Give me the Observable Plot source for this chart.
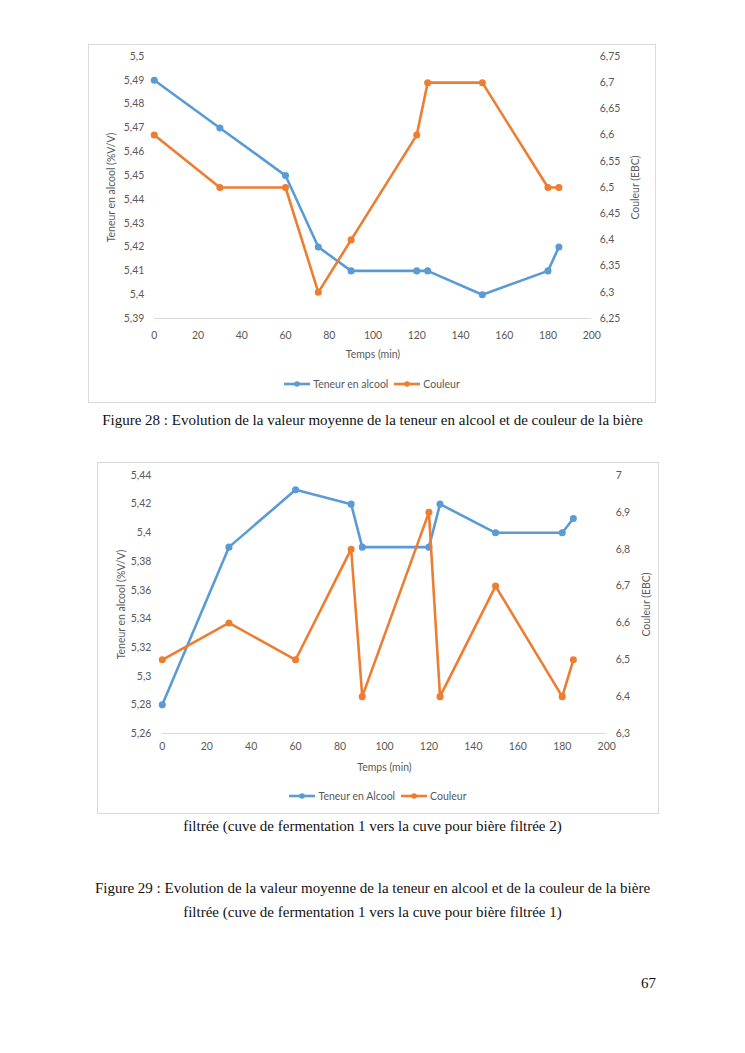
<!DOCTYPE html>
<html>
<head>
<meta charset="utf-8">
<script src="https://cdn.jsdelivr.net/npm/d3@7"></script>
<script src="https://cdn.jsdelivr.net/npm/@observablehq/plot@0.6"></script>
<style>
  html, body { margin: 0; padding: 0; background: #fff; }
  body { position: relative; width: 745px; height: 1053px; overflow: hidden; }
  .frame { position: absolute; border: 1px solid #d9d9d9; box-sizing: border-box; background: #fff; }
  .frame svg { position: absolute; left: 0; top: 0; }
  .legend { position: absolute; left: 0; width: 100%; display: flex; justify-content: center; align-items: center;
            font-family: Lato, sans-serif; font-size: 10.5px; color: #595959; gap: 0; }
  .legend span.item { display: inline-flex; align-items: center; margin: 0 3px; }
  .legend svg { position: static; margin-right: 3px; }
  .cap { position: absolute; left: 0; width: 745px; text-align: center; font-family: "Liberation Serif", "Times New Roman", serif;
         font-size: 15px; color: #111; line-height: 16px; white-space: nowrap; }
</style>
</head>
<body>
<div id="f1" class="frame" style="left:88px; top:44px; width:568px; height:359px;"></div>
<div class="cap" style="top:412px;">Figure 28 : Evolution de la valeur moyenne de la teneur en alcool et de couleur de la bière</div>
<div id="f2" class="frame" style="left:97px; top:462px; width:562px; height:352px;"></div>
<div class="cap" style="top:818px;">filtrée (cuve de fermentation 1 vers la cuve pour bière filtrée 2)</div>
<div class="cap" style="top:880px;">Figure 29 : Evolution de la valeur moyenne de la teneur en alcool et de la couleur de la bière</div>
<div class="cap" style="top:904px;">filtrée (cuve de fermentation 1 vers la cuve pour bière filtrée 1)</div>
<div class="cap" style="top:975px; left:auto; right:89px; width:auto; text-align:right;">67</div>

<script>
// ---------- Data: Figure 28 ----------
const temps1   = [0, 30, 60, 75, 90, 120, 125, 150, 180, 185];
const alcool1  = [5.49, 5.47, 5.45, 5.42, 5.41, 5.41, 5.41, 5.40, 5.41, 5.42];
const couleur1 = [6.6, 6.5, 6.5, 6.3, 6.4, 6.6, 6.7, 6.7, 6.5, 6.5];
const alcTicks1 = [5.39, 5.40, 5.41, 5.42, 5.43, 5.44, 5.45, 5.46, 5.47, 5.48, 5.49, 5.50];
const colTicks1 = [6.25, 6.30, 6.35, 6.40, 6.45, 6.50, 6.55, 6.60, 6.65, 6.70, 6.75];

// ---------- Data: Figure 29 ----------
const temps2   = [0, 30, 60, 85, 90, 120, 125, 150, 180, 185];
const alcool2  = [5.28, 5.39, 5.43, 5.42, 5.39, 5.39, 5.42, 5.40, 5.40, 5.41];
const couleur2 = [6.5, 6.6, 6.5, 6.8, 6.4, 6.9, 6.4, 6.7, 6.4, 6.5];
const alcTicks2 = [5.26, 5.28, 5.30, 5.32, 5.34, 5.36, 5.38, 5.40, 5.42, 5.44];
const colTicks2 = [6.3, 6.4, 6.5, 6.6, 6.7, 6.8, 6.9, 7.0];

const xTicks = [0, 20, 40, 60, 80, 100, 120, 140, 160, 180, 200];

const BLUE = "#5b9bd5", ORANGE = "#ed7d31", GRAY = "#595959";
const fmt = v => String(+(+v).toFixed(4)).replace(".", ",");

function dualChart(opts) {
  const {temps, alcool, couleur, alcTicks, colTicks, width, height, m, yLabel, off} = opts;
  const aDom = [alcTicks[0], alcTicks[alcTicks.length - 1]];
  const cDom = [colTicks[0], colTicks[colTicks.length - 1]];
  const c2a = d3.scaleLinear(cDom, aDom);
  const rows = temps.map((t, i) => ({t, a: alcool[i], c: couleur[i], ca: c2a(couleur[i])}));
  return Plot.plot({
    width, height,
    marginLeft: m[0], marginRight: m[1], marginTop: m[2], marginBottom: m[3],
    style: {fontFamily: "Lato, sans-serif", fontSize: "10.5px", color: GRAY, background: "transparent", overflow: "visible"},
    x: {domain: [0, 200]},
    y: {domain: aDom},
    marks: [
      Plot.ruleY([aDom[0]], {stroke: "#d9d9d9", strokeWidth: 1}),
      Plot.axisX(xTicks, {tickSize: 0, tickPadding: off.xp, tickFormat: fmt, label: "Temps (min)",
        labelAnchor: "center", labelArrow: "none", labelOffset: off.xl, fill: GRAY}),
      Plot.axisY(alcTicks, {anchor: "left", tickSize: 0, tickPadding: off.lp, tickFormat: fmt, label: yLabel,
        labelAnchor: "center", labelArrow: "none", labelOffset: off.ll, fill: GRAY}),
      Plot.axisY(colTicks.map(c2a), {anchor: "right", tickSize: 0, tickPadding: off.rp, tickFormat: v => fmt(c2a.invert(v)),
        label: "Couleur (EBC)", labelAnchor: "center", labelArrow: "none", labelOffset: off.rl, fill: GRAY}),
      Plot.line(rows, {x: "t", y: "a", stroke: BLUE, strokeWidth: 2.6}),
      Plot.dot(rows, {x: "t", y: "a", r: 2.8, fill: BLUE, stroke: BLUE}),
      Plot.line(rows, {x: "t", y: "ca", stroke: ORANGE, strokeWidth: 2.6}),
      Plot.dot(rows, {x: "t", y: "ca", r: 2.8, fill: ORANGE, stroke: ORANGE})
    ]
  });
}

function legend(names, top) {
  const d = document.createElement("div");
  d.className = "legend";
  d.style.top = top + "px";
  d.innerHTML = names.map((n, i) => {
    const c = i === 0 ? BLUE : ORANGE;
    return `<span class="item"><svg width="26" height="8"><line x1="0" y1="4" x2="26" y2="4" stroke="${c}" stroke-width="2.6"/><circle cx="13" cy="4" r="2.8" fill="${c}"/></svg>${n}</span>`;
  }).join("");
  return d;
}

const f1 = document.getElementById("f1");
f1.appendChild(dualChart({
  temps: temps1, alcool: alcool1, couleur: couleur1, alcTicks: alcTicks1, colTicks: colTicks1,
  width: 568, height: 359, m: [65, 64, 11, 85], yLabel: "Teneur en alcool (%V/V)",
  off: {xp: 13, xl: 40, lp: 10, ll: 47, rp: 8, rl: 47}
}));
f1.appendChild(legend(["Teneur en alcool", "Couleur"], 333));

const f2 = document.getElementById("f2");
f2.appendChild(dualChart({
  temps: temps2, alcool: alcool2, couleur: couleur2, alcTicks: alcTicks2, colTicks: colTicks2,
  width: 562, height: 352, m: [64, 52, 12, 81], yLabel: "Teneur en alcool (%V/V)",
  off: {xp: 9, xl: 38, lp: 11, ll: 45, rp: 9, rl: 43}
}));
f2.appendChild(legend(["Teneur en Alcool", "Couleur"], 327));
</script>
</body>
</html>
